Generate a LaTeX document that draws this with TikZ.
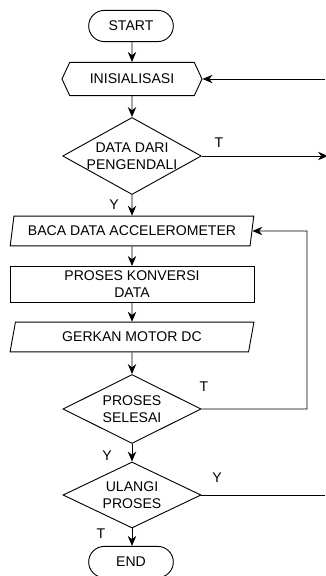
\documentclass[tikz,border=0pt]{standalone}
\usepackage{fontspec}
\setmainfont{Liberation Sans}
\usepackage{tikz}
\usetikzlibrary{arrows,arrows.meta,shapes,calc}
\usetikzlibrary{positioning}
\tikzset{
    %Define standard arrow tip
    >={Stealth[length=2.5mm,width=2.1mm]},
    % Define box styles
    term/.style={draw, shape=rounded rectangle, minimum width=2.35cm, minimum height=0.78cm},
    prep/.style={draw, shape=signal, signal to=west and east, signal pointer angle=130,
           minimum width=3.5cm, minimum height=0.83cm},
    io/.style={draw, shape=trapezium, trapezium left angle=80, trapezium right angle=100,
           trapezium stretches=true, minimum width=6.1cm, minimum height=0.74cm},
    proc/.style={draw, shape=rectangle, minimum width=6.1cm, minimum height=0.83cm, align=center},
    dec/.style={draw, shape=diamond, aspect=1.8, inner sep=0pt,
           minimum width=3.45cm, minimum height=1.8cm, align=center},
    % Define arrow style
    pil/.style={
           ->,},
    garis/.style={
           -,}
}

\begin{document}
\begin{tikzpicture}[x=0.025cm, y=-0.025cm, line width=0.65pt, font=\fontsize{10}{12}\selectfont]
  \useasboundingbox (0,0) rectangle (325,576);
  \node (start) at (131,26) [term] {START};
  \node (init) at (132,79) [prep] {INISIALISASI};
  \node (cek) at (132,156) [dec, minimum height=1.925cm] {DATA DARI\\PENGENDALI};
  \node (baca) at (132,231) [io] {BACA DATA ACCELEROMETER};
  \node (konv) at (132,284.5) [proc] {PROSES KONVERSI\\DATA};
  \node (gerak) at (132,337) [io] {GERKAN MOTOR DC};
  \node (selesai) at (132,409) [dec, minimum height=1.725cm] {PROSES\\SELESAI};
  \node (ulang) at (132,495) [dec, minimum height=1.65cm] {ULANGI\\PROSES};
  \node (end) at (131,562) [term] {END};
  \coordinate (kembali) at (325,79);
  \coordinate (keluar) at (328,156);
  \coordinate (sudut) at (307,231);
  \coordinate (ulangi) at (325,495);
%  \node (y0) at (132,200) [] {};
  \draw [pil] (start.south -| init) -- (init);
  \draw [pil] (init) -- (cek);
  \draw [pil] (cek) -- (baca);
  \draw [pil] (baca) -- (konv);
  \draw [pil] (konv) -- (gerak);
  \draw [pil] (gerak) -- (selesai);
  \draw [pil] (selesai) -- (ulang);
  \draw [pil] (ulang) -- (end.north -| ulang);
  \draw [pil] (kembali) -- (init.east);
  \draw [pil] (cek.east) -- (keluar);
  \draw [pil] (selesai.east) -| (sudut) -- (baca.east);
  \draw [garis] (ulang.east) -- (ulangi);
  \node (t1) at (219,143) {T};
  \node (y1) at (114,205) {Y};
  \node (t2) at (204,387) {T};
  \node (y2) at (107,456) {Y};
  \node (y3) at (217,478) {Y};
  \node (t3) at (101,534) {T};
\end{tikzpicture}
\end{document}
